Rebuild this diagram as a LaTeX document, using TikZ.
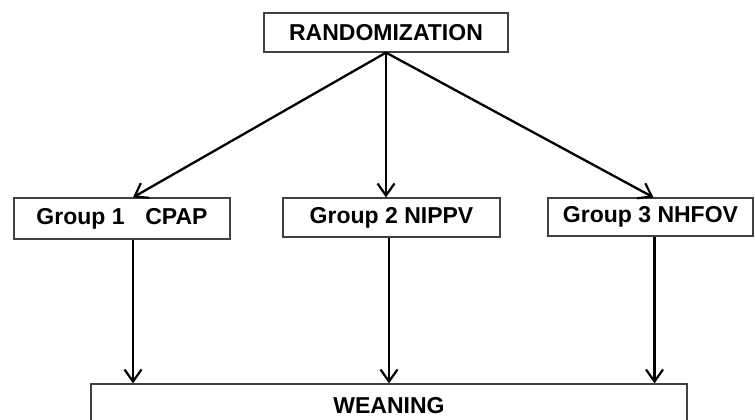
\documentclass[tikz,border=0pt]{standalone}
\usepackage{fontspec}
\setmainfont{Liberation Sans}
\usetikzlibrary{arrows.meta}
\begin{document}
\begin{tikzpicture}[
				x=1pt, y=-1pt,
				box/.style={draw=black!75, line width=1.2pt, inner sep=0pt, minimum height=40pt, font=\fontsize{23}{27}\selectfont\bfseries},
				arr/.style={-{Straight Barb[length=12pt,width=17pt,line width=2.2pt]}, line width=2.3pt}
				]
			\useasboundingbox (0,0) rectangle (755,420);
			\clip (0,0) rectangle (755,420);
			% boxes
			\node [box, minimum width=244pt, minimum height=39pt] (rand) at (386,32.5) {RANDOMIZATION};
			\node [box, minimum width=216pt, minimum height=41pt] (grpone) at (122,218.5) {Group 1\hspace{0.9em}CPAP};
			\node [box, minimum width=217pt, minimum height=39pt] (grptwo) at (391.5,217.5) {Group 2 NIPPV};
			\node [box, minimum width=205pt, minimum height=38pt] (grpthree) at (650.5,217) {Group 3 NHFOV};
			\node [box, minimum width=596pt, minimum height=44pt] (wean) at (389,406) {WEANING};
			% arrows
			\draw [arr] (rand.south) -- ([xshift=11pt]grpone.north);
			\draw [arr] (rand.south) -- (rand.south |- grptwo.north);
			\draw [arr] (rand.south) -- ([xshift=3pt]grpthree.north);
			\draw [arr] ([xshift=11pt]grpone.south) -- ([xshift=11pt]grpone.south |- wean.north);
			\draw [arr] ([xshift=-2.5pt]grptwo.south) -- ([xshift=-2.5pt]grptwo.south |- wean.north);
			\draw [arr] ([xshift=4pt]grpthree.south) -- ([xshift=4pt]grpthree.south |- wean.north);
\end{tikzpicture}
\end{document}
